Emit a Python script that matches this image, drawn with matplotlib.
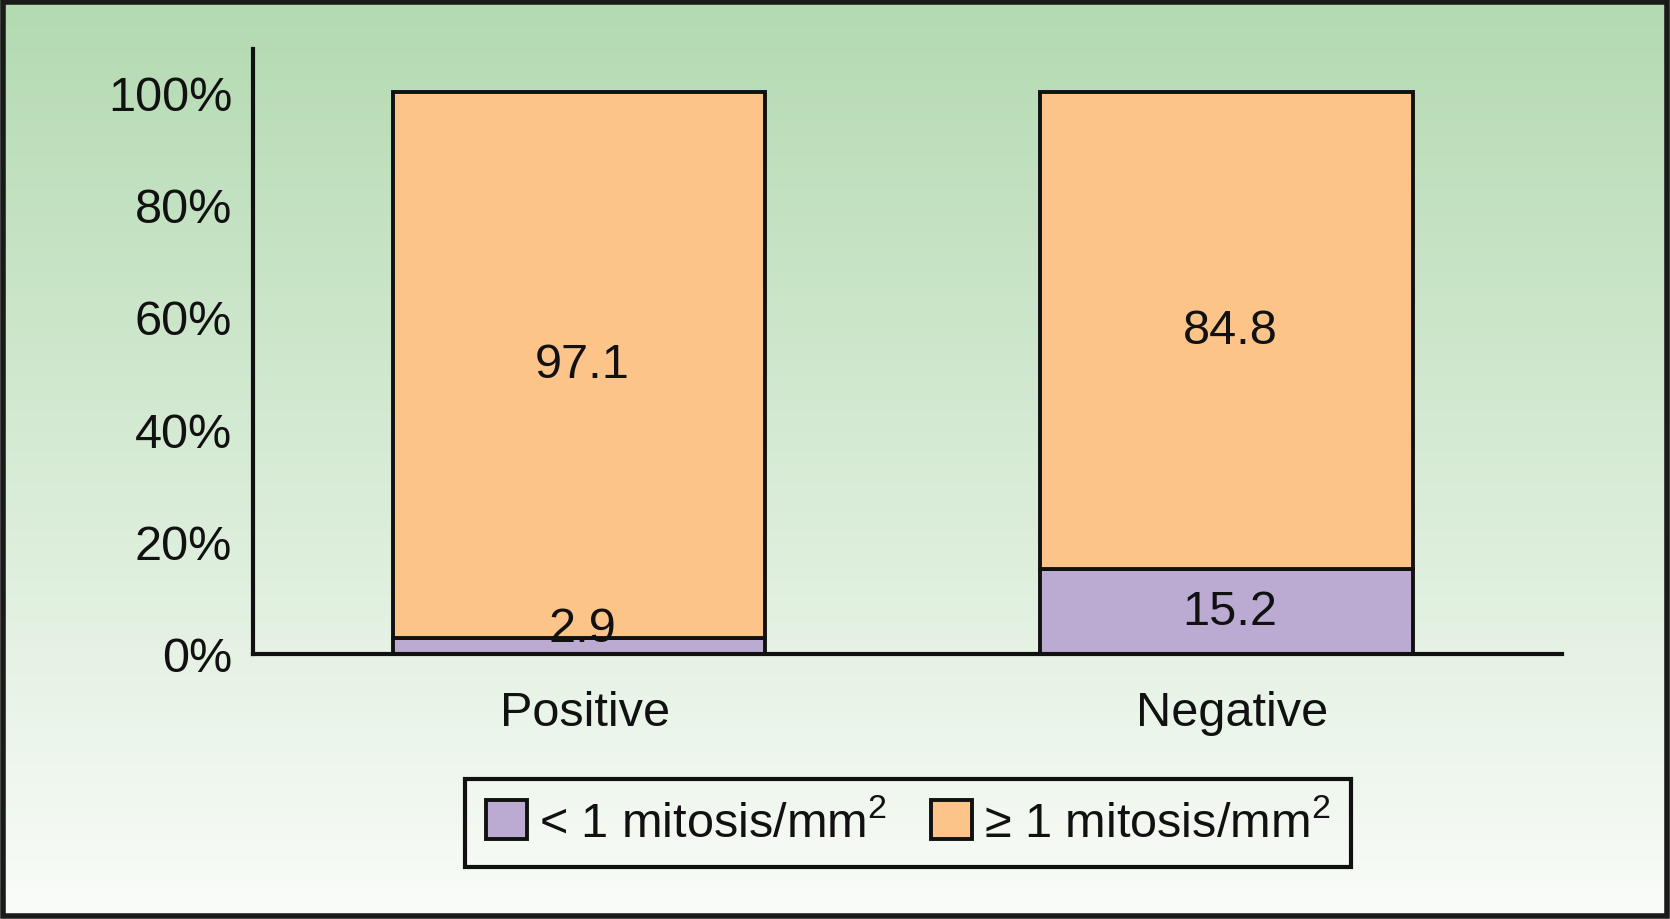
import numpy as np
import matplotlib
matplotlib.use("Agg")
import matplotlib.pyplot as plt
from matplotlib.patches import Rectangle, Patch
from matplotlib.transforms import ScaledTranslation

categories = ["Positive", "Negative"]
low_mitosis = [2.9, 15.2]
high_mitosis = [97.1, 84.8]
series_labels = [r"< 1 mitosis/mm$^2$", r"≥ 1 mitosis/mm$^2$"]
y_ticks = [0, 20, 40, 60, 80, 100]
y_tick_labels = ["0%", "20%", "40%", "60%", "80%", "100%"]

plt.rcParams["font.family"] = ["Liberation Sans", "DejaVu Sans"]
plt.rcParams["mathtext.fontset"] = "custom"
plt.rcParams["mathtext.rm"] = "Liberation Sans"
plt.rcParams["mathtext.it"] = "Liberation Sans"

purple = "#bbabd3"
orange = "#fdc48a"
edge = "#111111"
FS = 35

fig = plt.figure(figsize=(16.7, 9.2), dpi=100)

# background gradient
bg = fig.add_axes([0, 0, 1, 1], zorder=-10)
top = np.array([179, 218, 177]) / 255
bot = np.array([250, 252, 249]) / 255
t = np.linspace(0, 1, 256)[:, None]
grad = top[None, :] * (1 - t) + bot[None, :] * t
bg.imshow(grad[:, None, :], aspect="auto", extent=[0, 1, 0, 1])
bg.set_axis_off()
fig.patches.append(Rectangle((0.0018, 0.003), 0.9964, 0.994, transform=fig.transFigure,
                             fill=False, edgecolor="#1a1a1a", linewidth=4, zorder=10))

ax = fig.add_axes([253 / 1670, 1 - 655 / 920, (1562 - 253) / 1670, (655 - 50) / 920])
ax.patch.set_alpha(0)
x = np.arange(len(categories))
w = 0.575
ax.bar(x, low_mitosis, w, color=purple, edgecolor=edge, linewidth=2.8, label=series_labels[0])
ax.bar(x, high_mitosis, w, bottom=low_mitosis, color=orange, edgecolor=edge, linewidth=2.8,
       label=series_labels[1])

for i in range(len(categories)):
    ax.text(x[i] + 0.005, max(low_mitosis[i] / 2, 4.6), f"{low_mitosis[i]:.1f}", ha="center",
            va="center", fontsize=FS, color="#111111")
    ax.text(x[i] + 0.005, low_mitosis[i] + high_mitosis[i] / 2, f"{high_mitosis[i]:.1f}",
            ha="center", va="center", fontsize=FS, color="#111111")

ax.set_xlim(-0.5035, 1.518)
ax.set_ylim(0, 107.7)
ax.set_yticks(y_ticks)
ax.set_yticklabels(y_tick_labels)
ax.set_xticks(x)
ax.set_xticklabels(categories)
ax.tick_params(axis="y", length=0, pad=15, labelsize=FS, colors="#111111")
ax.tick_params(axis="x", length=0, pad=26, labelsize=FS, colors="#111111")
shift = ScaledTranslation(6 / 100, 0, fig.dpi_scale_trans)
for lbl in ax.get_xticklabels():
    lbl.set_transform(lbl.get_transform() + shift)
for s in ["top", "right"]:
    ax.spines[s].set_visible(False)
for s in ["left", "bottom"]:
    ax.spines[s].set_linewidth(3)
    ax.spines[s].set_color(edge)

handles = [Patch(facecolor=purple, edgecolor=edge, linewidth=2.8),
           Patch(facecolor=orange, edgecolor=edge, linewidth=2.8)]
leg = fig.legend(handles, series_labels, loc="center", bbox_to_anchor=(908 / 1670, 1 - 824 / 920),
                 ncol=2, fontsize=FS, frameon=True, fancybox=False, framealpha=1,
                 handlelength=0.85, handleheight=0.85, handletextpad=0.25, columnspacing=0.9,
                 borderpad=0.42, borderaxespad=0)
leg.get_frame().set_facecolor("none")
leg.get_frame().set_edgecolor(edge)
leg.get_frame().set_linewidth(3)
for txt in leg.get_texts():
    txt.set_color("#111111")

fig.savefig("out.png", dpi=100)
